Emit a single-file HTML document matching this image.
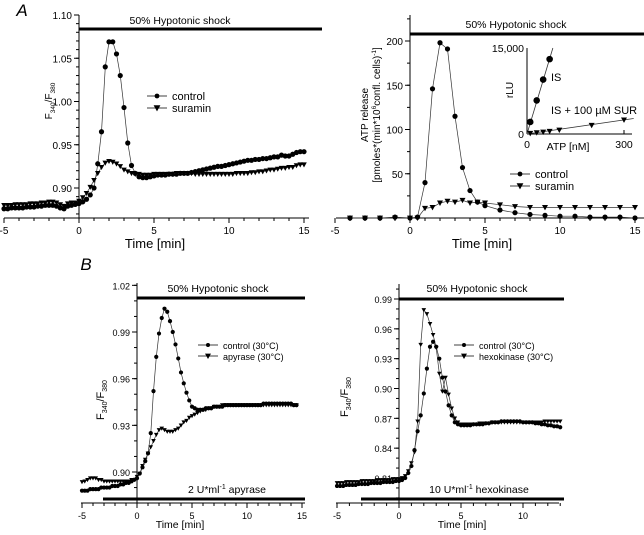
<!DOCTYPE html>
<html><head><meta charset="utf-8"><style>
html,body{margin:0;padding:0;background:#fff;}
svg{display:block;font-family:"Liberation Sans",sans-serif;}
</style></head><body>
<svg id="fig" width="644" height="535" viewBox="0 0 644 535" xmlns="http://www.w3.org/2000/svg"></svg>
<script>
// ---------- DATA ----------
// Panel A1 (t = -5..15 step 0.25)
const a1Control=[0.876,0.876,0.877,0.877,0.877,0.877,0.878,0.878,0.878,0.879,0.879,0.880,0.880,
0.880,0.879,0.877,0.876,0.879,0.880,0.881,
0.882,0.884,0.887,0.892,0.900,0.928,0.965,1.040,1.069,1.069,1.055,1.030,0.993,0.952,0.926,0.917,0.913,0.912,0.912,0.913,
0.914,0.915,0.915,0.915,0.916,0.916,0.916,0.917,0.917,0.917,0.918,0.919,0.920,0.921,0.922,0.923,0.924,0.925,0.925,0.926,0.927,0.928,0.929,0.930,0.931,0.932,0.932,0.933,0.933,0.934,0.934,0.935,0.936,0.936,0.938,0.937,0.937,0.939,0.941,0.942,0.942];
const a1Suramin=[0.880,0.880,0.880,0.881,0.881,0.881,0.881,0.882,0.882,0.882,0.883,0.883,0.884,
0.884,0.883,0.881,0.879,0.882,0.883,0.883,
0.885,0.889,0.894,0.901,0.909,0.917,0.924,0.929,0.931,0.930,0.928,0.925,0.921,0.919,0.917,0.916,0.916,0.915,0.915,0.915,
0.916,0.916,0.916,0.916,0.916,0.916,0.917,0.917,0.917,0.917,0.917,0.916,0.916,0.916,0.916,0.916,0.916,0.916,0.916,0.916,0.916,0.916,0.917,0.917,0.917,0.917,0.918,0.918,0.919,0.919,0.920,0.921,0.921,0.922,0.923,0.923,0.924,0.924,0.926,0.927,0.927];
// Panel A2
const a2Times=[-4,-3,-2,-1,0,0.5,1,1.5,2,2.5,3,3.5,4,4.5,5,6,7,8,9,10,11,12,13,14,15];
const a2Control=[0,0,0,1,0,1,40,146,198,191,115,57,31,18,14,9,6,4,3,2,2,1,1,1,0];
const a2Suramin=[0,0,0,0,0,0,11,12,17,19,18,20,17,18,17,15,13,12,12,12,12,12,12,12,12];
const insetAtp=[10,30,50,70];
const insetIS=[2100,5860,9500,13060];
const insetSurAtp=[10,30,50,70,100,200,300];
const insetSur=[117,234,350,470,700,1520,2460];
// Panel B1 (t = -5..14.5 step 0.25)
const b1Control=[0.888,0.888,0.888,0.889,0.889,0.889,0.889,0.890,0.890,0.890,0.890,0.891,0.891,0.891,0.892,0.892,0.893,0.893,0.894,0.895,
0.896,0.899,0.903,0.907,0.912,0.925,0.952,0.974,0.989,0.999,1.005,1.003,0.997,0.990,0.982,0.973,0.964,0.957,0.951,0.946,
0.942,0.941,0.940,0.940,0.940,0.941,0.941,0.941,0.942,0.942,0.942,0.942,0.943,0.943,0.943,0.943,0.943,0.943,0.943,0.943,0.943,0.943,0.943,0.943,0.943,0.943,0.944,0.944,0.944,0.944,0.944,0.944,0.944,0.944,0.944,0.944,0.944,0.943,0.943];
const b1Apyrase=[0.8936,0.894,0.895,0.896,0.896,0.896,0.895,0.895,0.894,0.894,0.894,0.894,0.894,0.894,0.894,0.894,0.894,0.894,0.895,0.895,
0.897,0.899,0.904,0.908,0.912,0.916,0.920,0.924,0.927,0.928,0.927,0.926,0.926,0.926,0.927,0.928,0.930,0.932,0.933,0.935,
0.936,0.937,0.938,0.939,0.940,0.940,0.941,0.941,0.942,0.942,0.942,0.943,0.943,0.943,0.943,0.943,0.943,0.943,0.943,0.943,0.943,0.943,0.943,0.943,0.943,0.943,0.943,0.943,0.943,0.943,0.943,0.943,0.943,0.943,0.943,0.943,0.943,0.943,0.943];
// Panel B2 (t = -5..13 step 0.25)
const b2Control=[0.802,0.802,0.802,0.803,0.803,0.803,0.803,0.804,0.804,0.804,0.804,0.805,0.805,0.805,0.805,0.806,0.806,0.806,0.806,0.807,
0.807,0.808,0.810,0.815,0.822,0.838,0.857,0.873,0.895,0.920,0.942,0.947,0.942,0.930,0.911,0.897,0.883,0.873,0.866,0.864,
0.863,0.863,0.863,0.863,0.864,0.864,0.864,0.864,0.865,0.865,0.866,0.866,0.866,0.867,0.867,0.867,0.867,0.867,0.867,0.867,0.866,0.866,0.866,0.866,0.865,0.865,0.864,0.864,0.863,0.863,0.862,0.862,0.861];
const b2Hexokinase=[0.805,0.805,0.805,0.806,0.806,0.806,0.806,0.806,0.807,0.807,0.807,0.807,0.807,0.808,0.808,0.808,0.808,0.808,0.809,0.809,
0.809,0.810,0.812,0.817,0.825,0.836,0.867,0.944,0.979,0.975,0.965,0.954,0.941,0.915,0.897,0.911,0.894,0.880,0.870,0.866,
0.864,0.864,0.864,0.864,0.864,0.864,0.865,0.865,0.865,0.865,0.866,0.866,0.866,0.866,0.866,0.866,0.866,0.866,0.866,0.866,0.866,0.866,0.866,0.866,0.866,0.866,0.866,0.867,0.867,0.867,0.867,0.867,0.867];

// ---------- HELPERS ----------
const svg=document.getElementById('fig');
const NS='http://www.w3.org/2000/svg';
function el(tag,attrs,parent){const e=document.createElementNS(NS,tag);for(const k in attrs)e.setAttribute(k,attrs[k]);(parent||svg).appendChild(e);return e;}
function txt(s,x,y,size,anchor,parent,extra){const t=el('text',Object.assign({x:x,y:y,'font-size':size,'text-anchor':anchor||'middle',fill:'#000'},extra||{}),parent);t.textContent=s;return t;}
function lin(d0,d1,r0,r1){return v=>r0+(v-d0)*(r1-r0)/(d1-d0);}
function stepTimes(n){const a=[];for(let i=0;i<n;i++)a.push(-5+i*0.25);return a;}
function circle(g,x,y,r){const c=el('circle',{cx:x,cy:y,r:r,fill:'#000'},g);}
function tri(g,x,y,s){const p=el('polygon',{points:`${x-s},${y-s*0.8} ${x+s},${y-s*0.8} ${x},${y+s}`,fill:'#000'},g);}
function series(name,times,vals,X,Y,kind,size){
  const g=el('g',{});
  let d='';times.forEach((t,i)=>{d+=(i?'L':'M')+X(t).toFixed(1)+','+Y(vals[i]).toFixed(1);});
  el('path',{d:d,fill:'none',stroke:'#333','stroke-width':0.7},g);
  times.forEach((t,i)=>{kind==='c'?circle(g,X(t),Y(vals[i]),size):tri(g,X(t),Y(vals[i]),size);});
}
function axes(name,X,Y,xTicks,xMinor,yTicks,yMinor,yFmt,xLeft,xRight,yBottom,yTop,fs){
  const g=el('g',{});
  el('line',{x1:xLeft,y1:yBottom,x2:xRight,y2:yBottom,stroke:'#000','stroke-width':1},g);
  el('line',{x1:X(0),y1:yBottom,x2:X(0),y2:yTop,stroke:'#000','stroke-width':1},g);
  xTicks.forEach(t=>{el('line',{x1:X(t),y1:yBottom,x2:X(t),y2:yBottom+5,stroke:'#000'},g);txt(String(t),X(t),yBottom+16,fs,'middle',g);});
  xMinor.forEach(t=>{el('line',{x1:X(t),y1:yBottom,x2:X(t),y2:yBottom+3,stroke:'#000'},g);});
  yTicks.forEach(v=>{el('line',{x1:X(0)-5,y1:Y(v),x2:X(0),y2:Y(v),stroke:'#000'},g);txt(yFmt(v),X(0)-7,Y(v)+4,fs,'end',g);});
  yMinor.forEach(v=>{el('line',{x1:X(0)-3,y1:Y(v),x2:X(0),y2:Y(v),stroke:'#000'},g);});
  return g;
}
function legend(name,x,y,dy,labels,fs,size){
  const g=el('g',{});
  labels.forEach((l,i)=>{const yy=y+i*dy;el('line',{x1:x,y1:yy,x2:x+20,y2:yy,stroke:'#000','stroke-width':0.8},g);
    i===0?circle(g,x+10,yy,size):tri(g,x+10,yy,size+1);txt(l,x+25,yy+4,fs,'start',g);});
}
function bar(name,x1,x2,y,label,lx,ly,fs){
  const g=el('g',{});
  el('line',{x1:x1,y1:y,x2:x2,y2:y,stroke:'#000','stroke-width':3},g);
  const t=txt('',lx,ly,fs,'middle',g);t.innerHTML=label;
}
const rng=(a,b,s)=>{const r=[];for(let v=a;v<=b+1e-9;v+=s)r.push(+v.toFixed(4));return r;};

// ---------- PANEL A1 ----------
{const X=lin(0,5,79,154),Y=lin(0.90,1.10,188,15);
 axes('panel-a1-axes',X,Y,[-5,0,5,10,15],rng(-5,15,1),[0.90,0.95,1.00,1.05,1.10],rng(0.87,1.10,0.01),v=>v.toFixed(2),4,309,218,15,10);
 const T=stepTimes(81);
 series('a1-control-series',T,a1Control,X,Y,'c',2.6);
 series('a1-suramin-series',T,a1Suramin,X,Y,'t',2.8);
 bar('a1-hypotonic-bar',79,322,29,'50% Hypotonic shock',180,24,10.5);
 legend('a1-legend',147,96,12,['control','suramin'],11,2.4);
 txt('Time [min]',155,248,13,'middle');
 const yt=txt('',0,0,10,'middle',null,{transform:'translate(52,101) rotate(-90)'});yt.innerHTML='F<tspan font-size="6.5" dy="3">340</tspan><tspan dy="-3">/F</tspan><tspan font-size="6.5" dy="3">380</tspan>';
 
 txt('A',22,16,17,'middle',null,{'font-style':'italic'});
}
// ---------- PANEL A2 ----------
{const X=lin(0,5,410,485),Y=lin(0,200,218,41);
 axes('panel-a2-axes',X,Y,[-5,0,5,10,15],rng(-5,15,1),[50,100,150,200],rng(0,225,25),v=>String(v),336,644,218,15,10);
 series('a2-suramin-series',a2Times,a2Suramin,X,Y,'t',3);
 series('a2-control-series',a2Times,a2Control,X,Y,'c',2.6);
 bar('a2-hypotonic-bar',410,644,34,'50% Hypotonic shock',516,28,10.5);
 legend('a2-legend',510,174,12,['control','suramin'],11,2.4);
 txt('Time [min]',482,248,13,'middle');
 txt('ATP release',0,0,10,'middle',null,{transform:'translate(368,115) rotate(-90)'});
 const l2=txt('',0,0,10,'middle',null,{transform:'translate(380,115) rotate(-90)'});
 l2.innerHTML='[pmoles*(min*10<tspan font-size="6.5" dy="-4">6</tspan><tspan dy="4">confl. cells)</tspan><tspan font-size="6.5" dy="-4">-1</tspan><tspan dy="4">]</tspan>';
 // inset
 const IX=lin(0,300,527,624),IY=lin(0,15000,134,48);
 const g=el('g',{});
 el('line',{x1:527,y1:134,x2:632,y2:134,stroke:'#000'},g);el('line',{x1:527,y1:134,x2:527,y2:48,stroke:'#000'},g);
 el('line',{x1:624,y1:134,x2:624,y2:130,stroke:'#000'},g);
 txt('15,000',524,52,10.5,'end',g);txt('0',524,138,10.5,'end',g);txt('0',527,148,10.5,'middle',g);txt('300',624,148,10.5,'middle',g);
 txt('ATP  [nM]',568,150,10.5,'middle',g);
 txt('rLU',0,0,10,'middle',g,{transform:'translate(513,90) rotate(-90)'});
 el('line',{x1:IX(0),y1:IY(0),x2:IX(80),y2:IY(15000),stroke:'#333','stroke-width':0.8},g);
 el('line',{x1:IX(0),y1:IY(0),x2:IX(330),y2:IY(2700),stroke:'#333','stroke-width':0.8},g);
 insetAtp.forEach((a,i)=>circle(g,IX(a),IY(insetIS[i]),3.3));
 insetSurAtp.forEach((a,i)=>tri(g,IX(a),IY(insetSur[i]),3));
 txt('IS',551,81,11,'start',g);txt('IS + 100 µM SUR',551,114,11,'start',g);
}
// ---------- PANEL B1 ----------
{const X=lin(0,5,137,192),Y=lin(0.90,0.99,472,332);
 axes('panel-b1-axes',X,Y,[-5,0,5,10,15],rng(-5,15,1),[0.90,0.93,0.96,0.99,1.02],rng(0.89,1.02,0.01),v=>v.toFixed(2),81,305,503,283,9);
 const T=stepTimes(79);
 series('b1-apyrase-series',T,b1Apyrase,X,Y,'t',2.3);
 series('b1-control-series',T,b1Control,X,Y,'c',2.1);
 bar('b1-hypotonic-bar',137,305,298,'50% Hypotonic shock',218,292,10.5);
 bar('b1-apyrase-bar',103,305,499,'2 U*ml<tspan font-size="7" dy="-4">-1</tspan><tspan dy="4"> apyrase</tspan>',227,493,10.5);
 legend('b1-legend',198,345,11,['control (30°C)','apyrase (30°C)'],9,2);
 txt('Time [min]',180,528,10.5,'middle');
 const yt=txt('',0,0,11,'middle',null,{transform:'translate(104,400) rotate(-90)'});yt.innerHTML='F<tspan font-size="7" dy="3">340</tspan><tspan dy="-3">/F</tspan><tspan font-size="7" dy="3">380</tspan>';
 
 txt('B',86,270,17,'middle',null,{'font-style':'italic'});
}
// ---------- PANEL B2 ----------
{const X=lin(0,5,399,461),Y=lin(0.81,0.99,478,299);
 axes('panel-b2-axes',X,Y,[-5,0,5,10],rng(-5,13,1),[0.81,0.84,0.87,0.90,0.93,0.96,0.99],rng(0.79,1.0,0.01),v=>v.toFixed(2),336,559,503,284,9);
 const T=stepTimes(73);
 series('b2-hexokinase-series',T,b2Hexokinase,X,Y,'t',2.3);
 series('b2-control-series',T,b2Control,X,Y,'c',2.1);
 bar('b2-hypotonic-bar',399,564,299,'50% Hypotonic shock',477,292,10.5);
 bar('b2-hexokinase-bar',361,564,499,'10 U*ml<tspan font-size="7" dy="-4">-1</tspan><tspan dy="4"> hexokinase</tspan>',479,493,10.5);
 legend('b2-legend',454,345,11,['control (30°C)','hexokinase (30°C)'],9,2);
 txt('Time [min]',462,528,10.5,'middle');
 const yt=txt('',0,0,11,'middle',null,{transform:'translate(348,397) rotate(-90)'});yt.innerHTML='F<tspan font-size="7" dy="3">340</tspan><tspan dy="-3">/F</tspan><tspan font-size="7" dy="3">380</tspan>';
 
}
</script>
</body></html>
